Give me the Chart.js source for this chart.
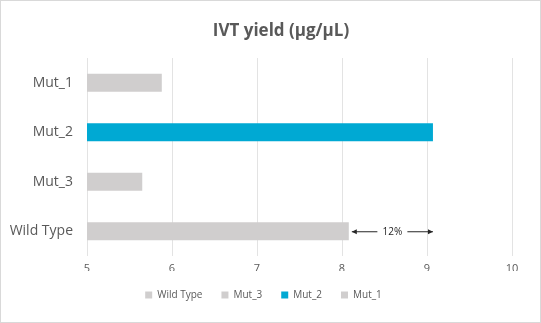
<!DOCTYPE html>
<html>
<head>
<meta charset="utf-8">
<script src="https://cdn.jsdelivr.net/npm/chart.js@4.4.1/dist/chart.umd.min.js"></script>
<style>
  html, body { margin: 0; padding: 0; background: #fff; }
  #wrap { width: 539px; height: 321px; border: 1px solid #d9d9d9; }
</style>
</head>
<body>
<div id="wrap"><canvas id="grafico" width="539" height="321"></canvas></div>
<script>
// ===== DADOS =====
const amostras = ['Mut_1', 'Mut_2', 'Mut_3', 'Wild Type'];
const rendimento = [5.88, 9.07, 5.65, 8.08];
const cores = ['#d0cece', '#00a9d3', '#d0cece', '#d0cece'];
const ordemLegenda = ['Wild Type', 'Mut_3', 'Mut_2', 'Mut_1'];
const titulo = 'IVT yield (µg/µL)';
const rotuloDiferenca = '12%';

const fonte = "'Open Sans', 'Liberation Sans', sans-serif";

// titulo desenhado a mao (um pouco à direita do centro, como no original)
const tituloPlugin = {
    id: 'tituloManual',
    afterLayout(chart) {
        // empurra a legenda um pouco para a direita
        if (chart.legend) {
            chart.legend.left += 7;
            chart.legend.right += 7;
        }
    },
    afterDraw(chart) {
        const ctx = chart.ctx;
        ctx.save();
        ctx.font = 'bold 17px ' + fonte;
        ctx.fillStyle = '#595959';
        ctx.textAlign = 'center';
        ctx.textBaseline = 'middle';
        ctx.fillText(titulo, 280, 30);
        ctx.restore();
    }
};

// seta dupla entre Wild Type e Mut_2
const setaPlugin = {
    id: 'seta',
    afterDatasetsDraw(chart) {
        const ctx = chart.ctx;
        const x = chart.scales.x, y = chart.scales.y;
        const iWT = amostras.indexOf('Wild Type');
        const iM2 = amostras.indexOf('Mut_2');
        const x1 = x.getPixelForValue(rendimento[iWT]) + 3;
        const x2 = x.getPixelForValue(rendimento[iM2]);
        const yy = y.getPixelForValue(iWT) + 0.5;
        const meio = (x1 + x2) / 2;
        ctx.save();
        ctx.strokeStyle = '#262626';
        ctx.fillStyle = '#262626';
        ctx.lineWidth = 1;
        ctx.beginPath();
        ctx.moveTo(x1, yy); ctx.lineTo(meio - 15, yy);
        ctx.moveTo(meio + 15, yy); ctx.lineTo(x2, yy);
        ctx.stroke();
        // pontas
        ctx.beginPath();
        ctx.moveTo(x1, yy); ctx.lineTo(x1 + 5, yy - 2.5); ctx.lineTo(x1 + 5, yy + 2.5); ctx.closePath();
        ctx.moveTo(x2, yy); ctx.lineTo(x2 - 5, yy - 2.5); ctx.lineTo(x2 - 5, yy + 2.5); ctx.closePath();
        ctx.fill();
        ctx.font = '10px ' + fonte;
        ctx.textAlign = 'center';
        ctx.textBaseline = 'middle';
        ctx.fillText(rotuloDiferenca, meio, yy);
        ctx.restore();
    }
};

new Chart(document.getElementById('grafico'), {
    type: 'bar',
    data: {
        labels: amostras,
        datasets: [{
            label: 'IVT yield',
            data: rendimento,
            backgroundColor: cores,
            categoryPercentage: 1,
            barPercentage: 0.36
        }]
    },
    options: {
        indexAxis: 'y',
        responsive: false,
        animation: false,
        layout: { padding: { left: 0, right: 28, top: 57, bottom: 12 } },
        plugins: {
            title: { display: false },
            legend: {
                position: 'bottom',
                onClick: null,
                labels: {
                    boxWidth: 7,
                    boxHeight: 7,
                    padding: 19,
                    color: '#595959',
                    font: { family: fonte, size: 10 },
                    generateLabels() {
                        return ordemLegenda.map(n => {
                            const c = cores[amostras.indexOf(n)];
                            return { text: n, fillStyle: c, strokeStyle: c, lineWidth: 0, fontColor: '#595959' };
                        });
                    }
                }
            },
            tooltip: { enabled: false }
        },
        scales: {
            x: {
                min: 5,
                max: 10,
                ticks: { stepSize: 1, color: '#595959', font: { family: fonte, size: 11 }, padding: 6 },
                grid: { color: '#e3e3e3', drawTicks: false },
                border: { display: false },
                afterFit(scale) { scale.height = 15; }
            },
            y: {
                ticks: { color: '#595959', font: { family: fonte, size: 14 }, padding: 6 },
                grid: { display: false },
                border: { display: false },
                afterFit(scale) { scale.width = 86; }
            }
        }
    },
    plugins: [setaPlugin, tituloPlugin]
});
</script>
</body>
</html>
